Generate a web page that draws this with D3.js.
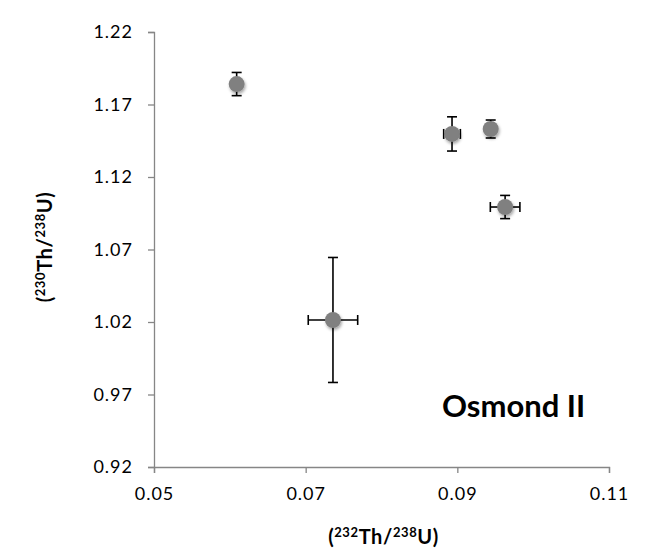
<!DOCTYPE html>
<html>
<head>
<meta charset="utf-8">
<script src="https://cdn.jsdelivr.net/npm/d3@7"></script>
<style>
  body { margin: 0; background: #fff; }
  text { font-family: Lato, "Open Sans", sans-serif; }
</style>
</head>
<body>
<div id="chart-holder"></div>
<script>
// ****DATA****
const thU232 = [0.0609, 0.0893, 0.0944, 0.0963, 0.0736];
const thU230 = [1.1841, 1.1497, 1.1531, 1.0993, 1.0214];
const xErr   = [0.0000, 0.0011, 0.0000, 0.00195, 0.00326];
const yErr   = [0.0080, 0.0118, 0.0062, 0.0080, 0.0431];
const xTicks = [0.05, 0.07, 0.09, 0.11];
const yTicks = [0.92, 0.97, 1.02, 1.07, 1.12, 1.17, 1.22];

const width = 651;
const height = 557;
const paddingLeft = 154;
const paddingTop = 32;
const graphWidth = 455;
const graphHeight = 435;

const svg = d3.select('#chart-holder')
    .append('svg')
    .attr('width', width)
    .attr('height', height);

// ****SCALES****
const xScale = d3.scaleLinear().domain([0.05, 0.11]).range([0, graphWidth]);
const yScale = d3.scaleLinear().domain([0.92, 1.22]).range([graphHeight, 0]);

const graphGroup = svg.append('g')
    .attr('transform', `translate(${paddingLeft}, ${paddingTop})`);

// shadow for markers
const defs = svg.append('defs');
const filt = defs.append('filter').attr('id', 'shadow')
    .attr('x', '-50%').attr('y', '-50%').attr('width', '200%').attr('height', '200%');
filt.append('feDropShadow')
    .attr('dx', 1).attr('dy', 2).attr('stdDeviation', 1.8)
    .attr('flood-color', '#000').attr('flood-opacity', 0.35);

// ****AXES****
const xAxis = graphGroup.append('g')
    .attr('transform', `translate(0, ${graphHeight})`)
    .call(d3.axisBottom(xScale).tickValues(xTicks).tickSize(6).tickPadding(14)
        .tickFormat(d3.format('.2f')));
const yAxis = graphGroup.append('g')
    .call(d3.axisLeft(yScale).tickValues(yTicks).tickSize(6).tickPadding(15)
        .tickFormat(d3.format('.2f')));

[xAxis, yAxis].forEach(function(ax) {
    ax.select('.domain').attr('stroke', '#868686').attr('stroke-width', 1.3);
    ax.selectAll('.tick line').attr('stroke', '#868686').attr('stroke-width', 1.3);
    ax.selectAll('.tick text')
        .style('font-size', '18px')
        .style('letter-spacing', '1px')
        .style('font-family', 'Lato, "Open Sans", sans-serif')
        .attr('fill', '#000');
});

// ****ERROR BARS****
const points = thU232.map(function(d, i) {
    return { x: d, y: thU230[i], ex: xErr[i], ey: yErr[i] };
});
const cap = 5;
const errGroup = graphGroup.append('g')
    .attr('stroke', '#000').attr('stroke-width', 1.6);

points.forEach(function(p) {
    const cx = xScale(p.x), cy = yScale(p.y);
    if (p.ey > 0) {
        const y1 = yScale(p.y + p.ey), y2 = yScale(p.y - p.ey);
        errGroup.append('line').attr('x1', cx).attr('x2', cx).attr('y1', y1).attr('y2', y2);
        errGroup.append('line').attr('x1', cx - cap).attr('x2', cx + cap).attr('y1', y1).attr('y2', y1);
        errGroup.append('line').attr('x1', cx - cap).attr('x2', cx + cap).attr('y1', y2).attr('y2', y2);
    }
    if (p.ex > 0) {
        const x1 = xScale(p.x - p.ex), x2 = xScale(p.x + p.ex);
        errGroup.append('line').attr('x1', x1).attr('x2', x2).attr('y1', cy).attr('y2', cy);
        errGroup.append('line').attr('x1', x1).attr('x2', x1).attr('y1', cy - cap).attr('y2', cy + cap);
        errGroup.append('line').attr('x1', x2).attr('x2', x2).attr('y1', cy - cap).attr('y2', cy + cap);
    }
});

// ****POINTS****
graphGroup.append('g')
    .selectAll('circle')
    .data(points)
    .enter()
    .append('circle')
    .attr('cx', function(d) { return xScale(d.x); })
    .attr('cy', function(d) { return yScale(d.y); })
    .attr('r', 8)
    .attr('fill', '#808080')
    .attr('filter', 'url(#shadow)');

// ****LABELS****
function ratioLabel(sel, top, bottom) {
    sel.append('tspan').text('(');
    sel.append('tspan').attr('dy', -7).style('font-size', '13px').text(top);
    sel.append('tspan').attr('dy', 7).text('Th/');
    sel.append('tspan').attr('dy', -7).style('font-size', '13px').text(bottom);
    sel.append('tspan').attr('dy', 7).text('U)');
}

const xLabel = svg.append('text')
    .attr('x', paddingLeft + graphWidth / 2 + 2)
    .attr('y', 544)
    .attr('text-anchor', 'middle')
    .style('font-weight', 'bold')
    .style('font-size', '20px')
    .style('letter-spacing', '0.6px');
ratioLabel(xLabel, '232', '238');

const yLabel = svg.append('text')
    .attr('transform', `translate(52, 247) rotate(-90)`)
    .attr('text-anchor', 'middle')
    .style('font-weight', 'bold')
    .style('font-size', '20px')
    .style('letter-spacing', '0.6px');
ratioLabel(yLabel, '230', '238');

svg.append('text')
    .attr('x', 442)
    .attr('y', 417)
    .style('font-weight', 'bold')
    .style('font-size', '31px')
    .text('Osmond II');
</script>
</body>
</html>
